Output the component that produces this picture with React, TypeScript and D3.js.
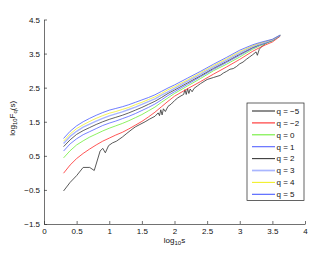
import React, { useEffect, useRef } from 'react';
import * as d3 from 'd3';

const W = 336;
const H = 253;
const margin = { top: 19.5, right: 31, bottom: 29, left: 44 };

// shared log10(s) grid for the smooth curves
const logS = [0.3, 0.4, 0.5, 0.6, 0.7, 0.8, 0.9, 1.0, 1.1, 1.2, 1.3, 1.4, 1.5, 1.6, 1.7, 1.8, 1.9, 2.0, 2.2, 2.4, 2.6, 2.8, 3.0, 3.2, 3.3, 3.4, 3.5, 3.62];

const fqNeg2 = [-0.01, 0.23, 0.42, 0.57, 0.70, 0.82, 0.93, 1.02, 1.11, 1.19, 1.29, 1.40, 1.51, 1.64, 1.78, 1.94, 2.10, 2.25, 2.47, 2.68, 2.90, 3.11, 3.33, 3.57, 3.67, 3.76, 3.84, 4.01];
const fq0 = [0.44, 0.65, 0.82, 0.94, 1.05, 1.14, 1.23, 1.31, 1.38, 1.45, 1.53, 1.62, 1.71, 1.82, 1.93, 2.07, 2.20, 2.33, 2.55, 2.77, 3.00, 3.19, 3.40, 3.63, 3.72, 3.80, 3.87, 4.03];
const fq1 = [0.64, 0.85, 1.00, 1.12, 1.21, 1.30, 1.39, 1.46, 1.52, 1.59, 1.66, 1.74, 1.83, 1.92, 2.02, 2.14, 2.27, 2.38, 2.60, 2.82, 3.04, 3.24, 3.45, 3.66, 3.74, 3.81, 3.88, 4.03];
const fq2 = [0.77, 0.97, 1.13, 1.24, 1.33, 1.42, 1.50, 1.57, 1.63, 1.69, 1.76, 1.84, 1.92, 2.01, 2.10, 2.21, 2.33, 2.43, 2.64, 2.85, 3.07, 3.27, 3.48, 3.68, 3.76, 3.83, 3.89, 4.03];
const fq3 = [0.86, 1.07, 1.22, 1.34, 1.43, 1.52, 1.60, 1.67, 1.73, 1.79, 1.86, 1.93, 2.01, 2.09, 2.17, 2.28, 2.38, 2.48, 2.69, 2.90, 3.11, 3.31, 3.52, 3.71, 3.78, 3.84, 3.90, 4.04];
const fq4 = [0.93, 1.14, 1.30, 1.41, 1.51, 1.60, 1.68, 1.75, 1.80, 1.86, 1.92, 2.00, 2.07, 2.15, 2.23, 2.33, 2.44, 2.53, 2.73, 2.94, 3.15, 3.35, 3.56, 3.73, 3.80, 3.86, 3.91, 4.04];
const fq5 = [1.01, 1.22, 1.38, 1.50, 1.60, 1.69, 1.77, 1.84, 1.89, 1.94, 2.00, 2.07, 2.14, 2.21, 2.29, 2.39, 2.49, 2.58, 2.78, 2.98, 3.19, 3.39, 3.60, 3.76, 3.82, 3.87, 3.92, 4.04];

// q = -5 is noisy, it has its own grid
const logSNeg5 = [0.3, 0.4, 0.5, 0.6, 0.7, 0.77, 0.86, 0.9, 0.94, 0.99, 1.05, 1.11, 1.2, 1.27, 1.35, 1.4, 1.47, 1.55, 1.62, 1.7, 1.75, 1.77, 1.79, 1.81, 1.83, 1.86, 1.9, 1.95, 2.0, 2.05, 2.1, 2.14, 2.16, 2.18, 2.2, 2.22, 2.24, 2.27, 2.3, 2.35, 2.4, 2.5, 2.6, 2.7, 2.75, 2.8, 2.85, 2.9, 2.95, 3.0, 3.05, 3.1, 3.15, 3.2, 3.25, 3.27, 3.3, 3.35, 3.4, 3.45, 3.5, 3.55, 3.62];
const fqNeg5 = [-0.53, -0.28, -0.08, 0.16, 0.16, 0.07, 0.64, 0.72, 0.59, 0.80, 0.88, 0.93, 1.05, 1.16, 1.28, 1.35, 1.42, 1.50, 1.58, 1.66, 1.76, 1.68, 1.85, 1.70, 1.88, 1.80, 1.95, 2.02, 2.12, 2.20, 2.26, 2.30, 2.44, 2.30, 2.47, 2.33, 2.46, 2.38, 2.48, 2.55, 2.62, 2.74, 2.80, 2.86, 2.93, 2.98, 3.04, 3.06, 3.12, 3.20, 3.25, 3.33, 3.40, 3.47, 3.55, 3.45, 3.63, 3.73, 3.80, 3.85, 3.88, 3.94, 4.02];

const qLabels = ['q = \u22125', 'q = \u22122', 'q = 0', 'q = 1', 'q = 2', 'q = 3', 'q = 4', 'q = 5'];
const qColors = ['#303030', '#ff2a2a', '#6fee3a', '#5563ff', '#3a3a3a', '#a9b6ff', '#f2f02a', '#4a5cff'];
const qWidths = [0.8, 0.8, 0.8, 0.8, 0.8, 1.4, 0.8, 0.8];

const xTicks = [0, 0.5, 1, 1.5, 2, 2.5, 3, 3.5, 4];
const yTicks = [-1.5, -0.5, 0.5, 1.5, 2.5, 3.5, 4.5];

const fmt = (v: number) => String(v).replace('-', '\u2212');

export default function App() {
  const ref = useRef<SVGSVGElement>(null);

  useEffect(() => {
    const svg = d3.select(ref.current);
    svg.selectAll('*').remove();

    const x = d3.scaleLinear([0, 4], [margin.left, W - margin.right]);
    const y = d3.scaleLinear([-1.5, 4.5], [H - margin.bottom, margin.top]);

    svg.append('rect').attr('width', W).attr('height', H).attr('fill', 'white');

    const series = [
      logSNeg5.map((s, i) => [s, fqNeg5[i]]),
      logS.map((s, i) => [s, fqNeg2[i]]),
      logS.map((s, i) => [s, fq0[i]]),
      logS.map((s, i) => [s, fq1[i]]),
      logS.map((s, i) => [s, fq2[i]]),
      logS.map((s, i) => [s, fq3[i]]),
      logS.map((s, i) => [s, fq4[i]]),
      logS.map((s, i) => [s, fq5[i]]),
    ] as [number, number][][];

    const line = d3.line<[number, number]>().x(d => x(d[0])).y(d => y(d[1]));

    svg.append('g')
      .selectAll('path')
      .data(series)
      .join('path')
      .attr('d', d => line(d))
      .attr('fill', 'none')
      .attr('stroke', (_, i) => qColors[i])
      .attr('stroke-width', (_, i) => qWidths[i])
      .attr('stroke-linejoin', 'round');

    // axes, matlab style: ticks inside, no box
    const xAxis = d3.axisBottom(x).tickValues(xTicks).tickSizeInner(-3).tickSizeOuter(0).tickPadding(4).tickFormat(d => fmt(+d));
    const yAxis = d3.axisLeft(y).tickValues(yTicks).tickSizeInner(-3).tickSizeOuter(0).tickPadding(4).tickFormat(d => fmt(+d));

    const gx = svg.append('g').attr('transform', `translate(0,${H - margin.bottom})`).call(xAxis);
    const gy = svg.append('g').attr('transform', `translate(${margin.left},0)`).call(yAxis);
    [gx, gy].forEach(g => {
      g.selectAll('path, line').attr('stroke', '#333').attr('stroke-width', 0.7);
      g.selectAll('text').attr('fill', '#111').style('font', '8px "Liberation Sans", Arial, sans-serif');
    });

    // axis labels
    const xl = svg.append('text')
      .attr('x', x(2))
      .attr('y', 243)
      .attr('text-anchor', 'middle')
      .style('font', '8px "Liberation Sans", Arial, sans-serif')
      .attr('fill', '#111');
    xl.append('tspan').text('log');
    xl.append('tspan').attr('dy', 2).style('font-size', '6px').text('10');
    xl.append('tspan').attr('dy', -2).text('s');

    const yl = svg.append('text')
      .attr('transform', `translate(15,${y(1.6)}) rotate(-90)`)
      .attr('text-anchor', 'middle')
      .style('font', '8px "Liberation Sans", Arial, sans-serif')
      .attr('fill', '#111');
    yl.append('tspan').text('log');
    yl.append('tspan').attr('dy', 2).style('font-size', '6px').text('10');
    yl.append('tspan').attr('dy', -2).text('F');
    yl.append('tspan').attr('dy', 2).style('font-size', '6px').text('q');
    yl.append('tspan').attr('dy', -2).text('(s)');

    // legend
    const lg = svg.append('g').attr('transform', 'translate(247,103)');
    lg.append('rect').attr('width', 57).attr('height', 97.5).attr('fill', 'white').attr('stroke', '#222').attr('stroke-width', 0.7);
    const item = lg.selectAll('g.item').data(qLabels).join('g')
      .attr('class', 'item')
      .attr('transform', (_, i) => `translate(0,${8 + i * 11.9})`);
    item.append('line').attr('x1', 5).attr('x2', 28).attr('stroke', (_, i) => qColors[i]).attr('stroke-width', (_, i) => qWidths[i] + 0.3);
    item.append('text').attr('x', 29.5).attr('dy', '0.35em').text(d => d)
      .style('font', '8px "Liberation Sans", Arial, sans-serif').attr('fill', '#111');
  }, []);

  return <svg ref={ref} width={W} height={H} style={{ position: 'absolute', left: 0, top: 0 }} />;
}
